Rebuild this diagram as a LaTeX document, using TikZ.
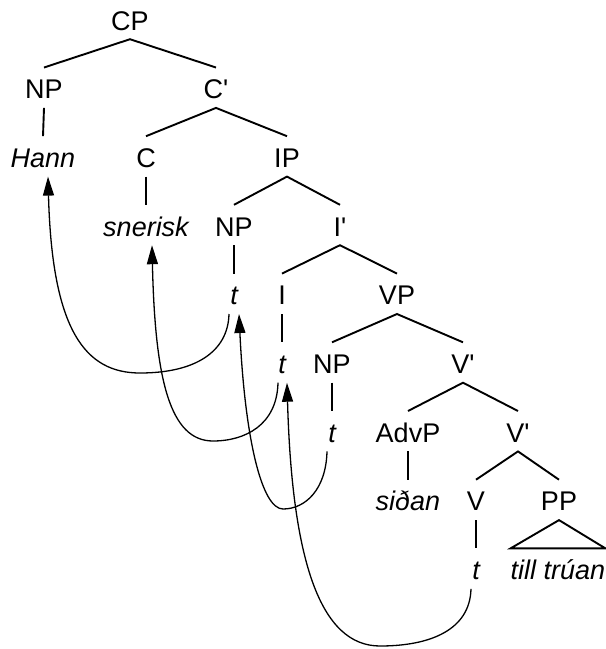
\documentclass[tikz,border=0pt]{standalone}
\usepackage{fontspec}
\setmainfont{Liberation Sans}[Ligatures=TeXOff]
\usetikzlibrary{arrows.meta}
\begin{document}
\begin{tikzpicture}[x=1pt,y=-1pt,
  lab/.style={anchor=base, inner xsep=1pt, inner ysep=9pt, text height=22pt, text depth=0pt, font=\fontsize{27}{30}\selectfont},
  word/.style={lab, font=\fontsize{27}{30}\selectfont\itshape},
  br/.style={line width=1.9pt},
  mv/.style={line width=1.3pt, -{Triangle[length=19pt,width=11pt]}}]
\useasboundingbox (0,0) rectangle (606,649);
% nodes
\node[lab] (cp) at (130,30) {CP};
\node[lab] (np1) at (44,98.7) {NP};
\node[lab] (c1) at (216,98.7) {C'};
\node[word] (hann) at (43,167.4) {Hann};
\node[lab] (c) at (146,167.4) {C};
\node[lab] (ip) at (287,167.4) {IP};
\node[word] (sn) at (146,236) {snerisk};
\node[lab] (np2) at (234,236) {NP};
\node[lab] (i1) at (340,236) {I'};
\node[word] (t1) at (234,304.8) {t};
\node[lab] (i) at (282,304.8) {I};
\node[lab] (vp) at (397,304.8) {VP};
\node[word] (t2) at (282,373.5) {t};
\node[lab] (np3) at (332,373.5) {NP};
\node[lab] (v1) at (463,373.5) {V'};
\node[word] (t3) at (332,442.2) {t};
\node[lab] (advp) at (408,442.2) {AdvP};
\node[lab] (v2) at (518,442.2) {V'};
\node[word] (sid) at (408,510.9) {siðan};
\node[lab] (v) at (476,510.9) {V};
\node[lab] (pp) at (559,510.9) {PP};
\node[word] (t4) at (476,579.6) {t};
\node[word, inner xsep=0pt] (tt) at (558,579.6) {till trúan};
% branches
\draw[br] (np1.north) -- (cp.south) -- (c1.north);
\draw[br] (np1.south) -- (hann.north);
\draw[br] (c.north) -- (c1.south) -- (ip.north);
\draw[br] (c.south) -- (sn.north);
\draw[br] (np2.north) -- (ip.south) -- (i1.north);
\draw[br] (np2.south) -- (t1.north);
\draw[br] (i.north) -- (i1.south) -- (vp.north);
\draw[br] (i.south) -- (t2.north);
\draw[br] (np3.north) -- (vp.south) -- (v1.north);
\draw[br] (np3.south) -- (t3.north);
\draw[br] (advp.north) -- (v1.south) -- (v2.north);
\draw[br] (advp.south) -- (sid.north);
\draw[br] (v.north) -- (v2.south) -- (pp.north);
\draw[br] (v.south) -- (t4.north);
\draw[br] (pp.south) -- (tt.north west) -- (tt.north east) -- cycle;
% movement arrows
\draw[mv] ([xshift=-5pt]t1.south) .. controls (228,352) and (195,373) .. (140,373) .. controls (85,373) and (52,330) .. ([xshift=5pt]hann.south);
\draw[mv] ([xshift=-4pt]t2.south) .. controls (277,425) and (245,441) .. (213,441) .. controls (170,441) and (155,380) .. ([xshift=6pt]sn.south);
\draw[mv] ([xshift=-5pt]t3.south) .. controls (326,490) and (305,509) .. (283,509) .. controls (262,509) and (245,440) .. ([xshift=5pt]t1.south);
\draw[mv] ([xshift=-5pt]t4.south) .. controls (470,630) and (430,646) .. (380,646) .. controls (320,646) and (292,560) .. ([xshift=5pt]t2.south);
\end{tikzpicture}
\end{document}
